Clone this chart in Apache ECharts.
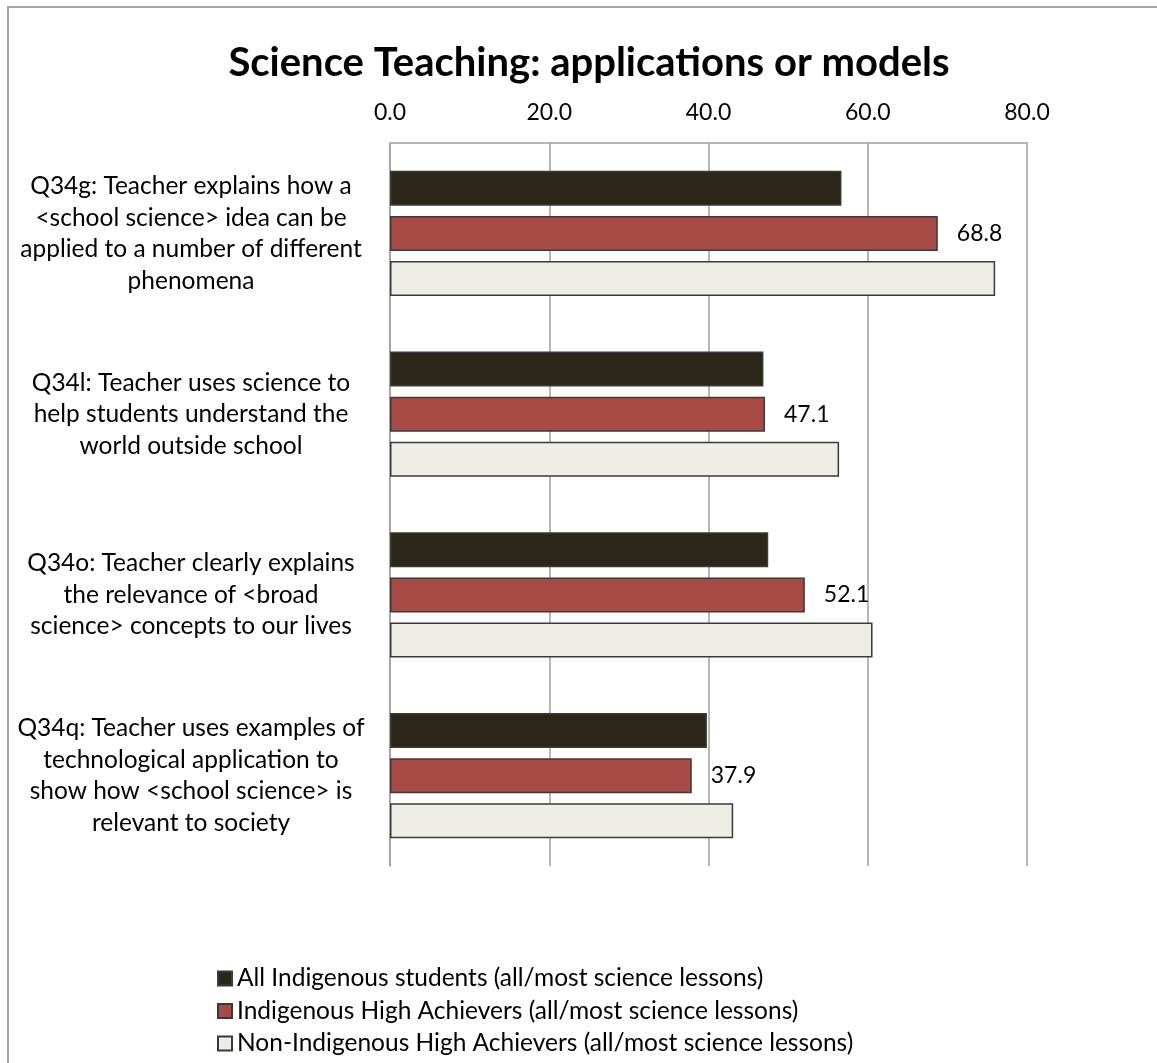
<!DOCTYPE html>
<html>
<head>
<meta charset="utf-8">
<script src="https://cdn.jsdelivr.net/npm/echarts@6/dist/echarts.min.js"></script>
<style>
html,body{margin:0;padding:0;background:#fff;}
#frame{position:absolute;left:7px;top:6px;width:1200px;height:1100px;border-left:2px solid #a6a6a6;border-top:2px solid #a6a6a6;}
#chart{position:absolute;left:0;top:0;width:1157px;height:1063px;}
</style>
</head>
<body>
<div id="frame"></div>
<div id="chart"></div>
<script>
const categories = [
  "Q34g: Teacher explains how a\n<school science> idea can be\napplied to a number of different\nphenomena",
  "Q34l: Teacher uses science to\nhelp students understand the\nworld outside school",
  "Q34o: Teacher clearly explains\nthe relevance of <broad\nscience> concepts to our lives",
  "Q34q: Teacher uses examples of\ntechnological application to\nshow how <school science> is\nrelevant to society"
];
const seriesNames = [
  "All Indigenous students (all/most science lessons)",
  "Indigenous High Achievers (all/most science lessons)",
  "Non-Indigenous High Achievers (all/most science lessons)"
];
const allIndigenous = [56.7, 46.9, 47.5, 39.8];
const indigenousHigh = [68.8, 47.1, 52.1, 37.9];
const nonIndigenousHigh = [76.0, 56.4, 60.6, 43.1];
const xTicks = {min: 0, max: 80, interval: 20};

const FONT = 'Lato';
const chart = echarts.init(document.getElementById('chart'), null, {renderer: 'canvas'});
const barBase = {
  type: 'bar',
  barWidth: 35,
  barGap: '29%',
  animation: false
};
chart.setOption({
  backgroundColor: 'transparent',
  title: {
    text: 'Science Teaching: applications or models',
    left: 584, top: 38, textAlign: 'center',
    textStyle: {fontFamily: FONT, fontWeight: 'bold', fontSize: 40, color: '#000'}
  },
  grid: {left: 390, right: 130, top: 143, bottom: 197, containLabel: false, outerBoundsMode: 'none'},
  xAxis: {
    type: 'value', position: 'top',
    min: xTicks.min, max: xTicks.max, interval: xTicks.interval,
    axisLine: {show: true, lineStyle: {color: '#a0a0a0', width: 1.5}},
    axisTick: {show: false},
    splitLine: {show: true, lineStyle: {color: '#a0a0a0', width: 1.5}},
    axisLabel: {formatter: v => v.toFixed(1), fontFamily: FONT, fontSize: 23, color: '#000', margin: 19}
  },
  yAxis: {
    type: 'category', inverse: true, data: categories,
    axisLine: {show: true, lineStyle: {color: '#a0a0a0', width: 1.5}},
    axisTick: {show: false},
    axisLabel: {fontFamily: FONT, fontSize: 24.5, color: '#000', align: 'center', margin: 199, lineHeight: 31.5, padding: [6, 0, 0, 0]}
  },
  legend: {
    orient: 'vertical', left: 212, top: 961, height: 200,
    itemWidth: 14, itemHeight: 14, itemGap: 7.5,
    icon: 'rect',
    textStyle: {fontFamily: FONT, fontSize: 24.5, color: '#000', lineHeight: 25},
    data: seriesNames
  },
  series: [
    Object.assign({}, barBase, {
      name: seriesNames[0], data: allIndigenous,
      itemStyle: {color: '#2a2618', borderColor: '#3a3a3a', borderWidth: 1.5}
    }),
    Object.assign({}, barBase, {
      name: seriesNames[1], data: indigenousHigh,
      itemStyle: {color: '#a84b47', borderColor: '#3a3a3a', borderWidth: 1.5},
      label: {show: true, position: 'right', distance: 19, formatter: p => p.value.toFixed(1),
        fontFamily: FONT, fontSize: 23, color: '#000'}
    }),
    Object.assign({}, barBase, {
      name: seriesNames[2], data: nonIndigenousHigh,
      itemStyle: {color: '#efeee6', borderColor: '#3a3a3a', borderWidth: 1.5}
    })
  ]
});
</script>
</body>
</html>
